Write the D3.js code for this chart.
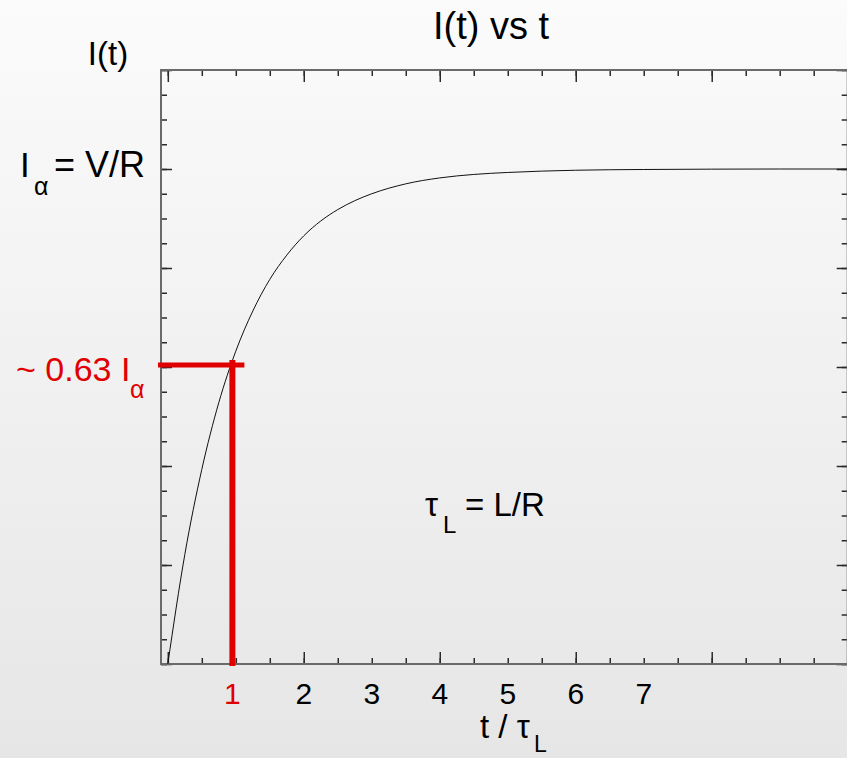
<!DOCTYPE html>
<html>
<head>
<meta charset="utf-8">
<script src="https://cdn.jsdelivr.net/npm/d3@7"></script>
<style>
  html, body { margin: 0; padding: 0; }
  body { width: 847px; height: 758px; overflow: hidden; }
  text { font-family: "Liberation Sans", Arial, Helvetica, sans-serif; }
</style>
</head>
<body>
<div id="chart"></div>
<script>
// t / tau_L readings and I/I_alpha readings
var tValues = [0, 0.25, 0.5, 0.75, 1.0, 1.25, 1.5, 1.75, 2, 2.25, 2.5, 2.75, 3, 3.5, 4, 4.5, 5, 6, 7, 8, 9, 10];
var iValues = [0, 0.221, 0.393, 0.528, 0.632, 0.713, 0.777, 0.826, 0.865, 0.895, 0.918, 0.936, 0.95, 0.97, 0.982, 0.989, 0.993, 0.9975, 0.999, 0.9997, 1, 1];

// axis ticks (no numbers on the axes themselves)
var xMajorTicks = [0, 2, 4, 6, 8, 10];
var xMinorTicks = d3.range(0, 10.01, 0.5);
var yMajorTicks = [0, 0.2, 0.4, 0.6, 0.8, 1.0, 1.2];
var yMinorTicks = d3.range(0, 1.201, 0.05);

// hand placed labels along t
var xLabels = ["1", "2", "3", "4", "5", "6", "7"];
var xLabelPos = [0.95, 2, 3, 4, 5, 6, 7];

// the ~0.63 marker
var markT = 0.95;
var markI = 0.604;

var svgWidth = 847;
var svgHeight = 758;

var margin = { top: 70, right: 0, bottom: 94, left: 161 };
var width = 686.7;
var height = svgHeight - margin.top - margin.bottom;

var svg = d3.select("#chart")
  .append("svg")
  .attr("width", svgWidth)
  .attr("height", svgHeight);

// background gradient
var grad = svg.append("defs").append("linearGradient")
  .attr("id", "bg")
  .attr("x1", 0).attr("y1", 0).attr("x2", 0).attr("y2", 1);
grad.append("stop").attr("offset", "0%").attr("stop-color", "#fbfbfb");
grad.append("stop").attr("offset", "100%").attr("stop-color", "#e6e6e6");

svg.append("rect")
  .attr("width", svgWidth)
  .attr("height", svgHeight)
  .attr("fill", "url(#bg)");

var chartGroup = svg.append("g")
  .attr("transform", `translate(${margin.left}, ${margin.top})`);

var xScale = d3.scaleLinear().domain([-0.1, 10]).range([0, width]);
var yScale = d3.scaleLinear().domain([0, 1.2]).range([height, 0]);

// tick marks pointing inward on all four sides
function drawTicks(axisFn, scale, ticks, size, transform) {
  var g = chartGroup.append("g")
    .attr("transform", transform)
    .call(axisFn(scale).tickValues(ticks).tickSize(size).tickFormat(""));
  g.select(".domain").remove();
  g.selectAll("line").attr("stroke", "#2a2a2a").attr("stroke-width", 1.5);
  return g;
}

drawTicks(d3.axisBottom, xScale, xMinorTicks, -6, `translate(0, ${height})`);
drawTicks(d3.axisBottom, xScale, xMajorTicks, -12, `translate(0, ${height})`);
drawTicks(d3.axisTop, xScale, xMinorTicks, -6, "translate(0, 0)");
drawTicks(d3.axisTop, xScale, xMajorTicks, -12, "translate(0, 0)");
drawTicks(d3.axisLeft, yScale, yMinorTicks, -6, "translate(0, 0)");
drawTicks(d3.axisLeft, yScale, yMajorTicks, -11, "translate(0, 0)");
drawTicks(d3.axisRight, yScale, yMinorTicks, -6, `translate(${width}, 0)`);
drawTicks(d3.axisRight, yScale, yMajorTicks, -11, `translate(${width}, 0)`);

// frame
chartGroup.append("rect")
  .attr("x", 0)
  .attr("y", 0)
  .attr("width", width)
  .attr("height", height)
  .attr("fill", "none")
  .attr("stroke", "#6a6a6a")
  .attr("stroke-width", 2);

// curve
var curveData = tValues.map((t, i) => ({ t: t, v: iValues[i] }));

var line = d3.line()
  .x(d => xScale(d.t))
  .y(d => yScale(d.v))
  .curve(d3.curveMonotoneX);

chartGroup.append("path")
  .datum(curveData)
  .attr("d", line)
  .attr("fill", "none")
  .attr("stroke", "#111")
  .attr("stroke-width", 1);

// red marker lines
chartGroup.append("line")
  .attr("x1", -3)
  .attr("x2", xScale(markT) + 12)
  .attr("y1", yScale(markI))
  .attr("y2", yScale(markI))
  .attr("stroke", "#e00000")
  .attr("stroke-width", 5);

chartGroup.append("line")
  .attr("x1", xScale(markT))
  .attr("x2", xScale(markT))
  .attr("y1", yScale(markI) - 5)
  .attr("y2", height + 2)
  .attr("stroke", "#e00000")
  .attr("stroke-width", 6);

// t labels
chartGroup.selectAll(".tlab")
  .data(xLabels)
  .enter()
  .append("text")
  .attr("class", "tlab")
  .attr("x", (d, i) => xScale(xLabelPos[i]))
  .attr("y", height + 40)
  .attr("text-anchor", "middle")
  .attr("font-size", "30px")
  .attr("fill", (d, i) => i === 0 ? "#e00000" : "#000")
  .text(d => d);

// title and texts
svg.append("text")
  .attr("x", 491)
  .attr("y", 39)
  .attr("text-anchor", "middle")
  .attr("font-size", "38px")
  .text("I(t) vs t");

svg.append("text")
  .attr("x", 108)
  .attr("y", 65)
  .attr("text-anchor", "middle")
  .attr("font-size", "33px")
  .text("I(t)");

// I_alpha = V/R
svg.append("text").attr("x", 20).attr("y", 177).attr("font-size", "35px").text("I");
svg.append("text").attr("x", 34).attr("y", 195).attr("font-size", "25px").text("\u03b1");
svg.append("text").attr("x", 54).attr("y", 177).attr("font-size", "36px").text("= V/R");

// ~ 0.63 I_alpha
svg.append("text").attr("x", 16).attr("y", 381).attr("font-size", "34px")
  .attr("fill", "#e00000").text("~ 0.63 I");
svg.append("text").attr("x", 130).attr("y", 398).attr("font-size", "25px")
  .attr("fill", "#e00000").text("\u03b1");

// tau_L = L/R
svg.append("text").attr("x", 425).attr("y", 516).attr("font-size", "33px").text("\u03c4");
svg.append("text").attr("x", 443).attr("y", 533).attr("font-size", "24px").text("L");
svg.append("text").attr("x", 465).attr("y", 516).attr("font-size", "33px").text("= L/R");

// x axis title t / tau_L
svg.append("text").attr("x", 480).attr("y", 738).attr("font-size", "33px").text("t / \u03c4");
svg.append("text").attr("x", 534).attr("y", 752).attr("font-size", "23px").text("L");
</script>
</body>
</html>
